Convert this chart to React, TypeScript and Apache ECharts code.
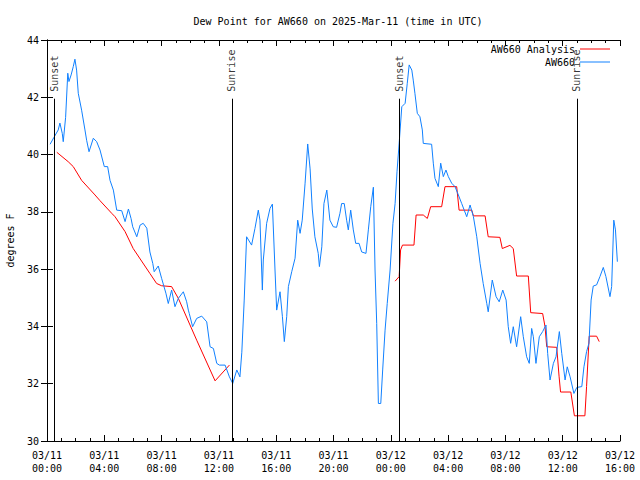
import React, { useEffect, useRef } from "react";
import * as echarts from "echarts";

// minutes since 2025-03-11 00:00 UTC
const blueMinutes = [13,29,47,54,64,68,78,87,92,101,110,117,124,131,145,159,166,176,194,208,222,240,254,264,278,292,313,327,341,352,359,376,390,403,418,431,443,449,466,480,498,508,522,536,550,571,585,592,596,610,627,648,669,683,697,711,722,746,764,778,795,808,816,826,836,857,871,885,892,902,906,920,934,944,955,962,976,986,994,1004,1011,1025,1039,1050,1060,1069,1081,1092,1102,1111,1122,1136,1141,1151,1160,1172,1185,1199,1213,1227,1234,1245,1255,1262,1272,1283,1293,1307,1318,1336,1346,1356,1367,1374,1381,1388,1398,1406,1416,1425,1437,1449,1458,1466,1475,1486,1500,1509,1517,1528,1534,1541,1551,1562,1572,1576,1611,1618,1625,1639,1649,1660,1671,1681,1695,1709,1723,1737,1758,1772,1786,1800,1814,1827,1842,1848,1865,1881,1894,1909,1923,1932,1942,1953,1967,1984,1995,2009,2020,2030,2037,2048,2062,2076,2090,2097,2107,2121,2132,2146,2156,2170,2179,2191,2207,2219,2240,2249,2260,2270,2279,2288,2302,2316,2330,2341,2358,2365,2374,2381,2389];
const blueValues = [40.36,40.6,40.86,41.1,40.74,40.45,41.3,42.84,42.55,42.78,43.07,43.33,42.95,42.14,41.55,40.86,40.5,40.1,40.57,40.45,40.16,39.58,39.58,39.1,38.76,38.06,38.04,37.66,38.1,37.77,37.48,37.13,37.54,37.6,37.43,36.6,36.2,35.91,36.11,35.68,35.16,34.8,35.27,34.69,34.98,35.21,34.86,34.57,34.45,33.99,34.28,34.36,34.16,33.29,33.23,32.71,32.65,32.65,32.24,32.01,32.48,32.24,33.1,34.92,37.13,36.84,37.42,38.06,37.71,35.27,36.32,37.6,38.12,38.27,35.97,34.57,35.21,34.34,33.47,34.34,35.39,35.91,36.38,37.71,37.25,37.71,39.0,40.37,39.5,38.1,37.13,36.55,36.09,36.78,38.29,38.76,37.71,37.48,37.46,37.95,38.29,38.29,37.71,37.37,38.06,37.37,36.9,36.9,36.6,36.55,37.37,38.18,38.86,35.97,34.1,31.31,31.31,32.48,33.87,34.8,35.97,37.6,38.29,39.4,40.4,41.67,41.79,42.49,43.13,42.95,42.6,42.14,41.44,41.32,40.86,40.39,40.36,39.7,39.17,38.88,39.7,39.23,39.46,39.23,39.0,38.88,38.59,38.29,37.83,38.24,37.83,37.13,36.2,35.5,34.8,34.51,35.62,35.04,34.86,35.27,34.92,33.99,33.41,33.99,33.29,34.34,33.64,32.94,32.71,33.93,33.64,32.71,33.64,33.82,34.05,33.06,32.13,32.71,32.94,33.82,33.06,32.13,32.59,32.24,31.66,31.87,31.9,32.59,33.12,33.41,34.92,35.41,35.45,35.74,36.06,35.74,35.04,35.39,37.71,37.37,36.26];

const redMinutes = [41,89,110,145,201,222,271,285,327,361,431,459,480,522,550,599,627,704,764,1100,1458,1475,1481,1489,1537,1546,1576,1593,1607,1653,1667,1716,1726,1779,1786,1835,1848,1897,1907,1939,1953,1967,2016,2026,2076,2086,2093,2135,2145,2151,2194,2209,2253,2260,2271,2302,2313];
const redValues = [40.08,39.75,39.58,39.1,38.59,38.39,37.95,37.83,37.31,36.72,35.85,35.5,35.42,35.39,34.98,34.05,33.52,32.1,32.65,null,35.58,35.74,36.67,36.84,36.84,37.89,37.89,37.77,38.18,38.18,38.88,38.88,38.06,38.06,37.86,37.86,37.13,37.11,36.72,36.83,36.72,35.76,35.76,34.48,34.45,33.99,33.29,33.27,32.24,31.71,31.71,30.88,30.88,31.9,33.66,33.66,33.47];

const eventMinutes = [31, 774, 1476, 2219];
const eventLabels = ["Sunset", "Sunrise", "Sunset", "Sunrise"];
const eventTop = 41.95;

const yTicks = { min: 30, max: 44, interval: 2 };
const xRange = { min: 0, max: 2400, interval: 240 };

const FONT = "DejaVu Sans Mono";

function fmtX(m: number): string {
  const day = 11 + Math.floor(m / 1440);
  const hh = Math.floor((m % 1440) / 60);
  return "03/" + day + "\n" + String(hh).padStart(2, "0") + ":00";
}

export default function App() {
  const ref = useRef<HTMLDivElement>(null);
  useEffect(() => {
    if (!ref.current) return;
    const chart = echarts.init(ref.current, undefined, { renderer: "svg" });
    const axisLine = { show: true, lineStyle: { color: "#000", width: 1 } };
    const xCommon = {
      type: "value",
      min: xRange.min,
      max: xRange.max,
      interval: xRange.interval,
      axisLine,
      axisTick: { show: true, inside: true, length: 6, lineStyle: { color: "#000" } },
      minorTick: { show: true, splitNumber: 4, length: 3, lineStyle: { color: "#000" } },
      splitLine: { show: false },
      minorSplitLine: { show: false },
    };
    const yCommon = {
      type: "value",
      min: yTicks.min,
      max: yTicks.max,
      interval: yTicks.interval,
      axisLine,
      axisTick: { show: true, inside: true, length: 6, lineStyle: { color: "#000" } },
      splitLine: { show: false },
    };
    chart.setOption({
      animation: false,
      backgroundColor: "#fff",
      textStyle: { fontFamily: FONT },
      title: {
        text: "Dew Point for AW660 on 2025-Mar-11 (time in UTC)",
        left: 333,
        textAlign: "center",
        top: 11,
        textStyle: { fontFamily: FONT, fontSize: 10, fontWeight: "normal", color: "#000" },
      },
      legend: [
        {
          data: ["AW660 Analysis"],
          right: 30,
          top: 44,
          padding: 0,
          align: "right",
          icon: "rect",
          itemWidth: 30,
          itemHeight: 1,
          textStyle: { fontFamily: FONT, fontSize: 10, color: "#000" },
        },
        {
          data: ["AW660"],
          right: 30,
          top: 57,
          padding: 0,
          align: "right",
          icon: "rect",
          itemWidth: 30,
          itemHeight: 1,
          textStyle: { fontFamily: FONT, fontSize: 10, color: "#000" },
        },
      ],
      grid: {
        left: 47,
        right: 20,
        top: 40,
        bottom: 39,
        containLabel: false,
        outerBoundsMode: "none",
      },
      xAxis: [
        {
          ...xCommon,
          position: "bottom",
          axisLabel: {
            show: true,
            formatter: fmtX,
            fontFamily: FONT,
            fontSize: 10,
            color: "#000",
            lineHeight: 13,
            margin: 8,
          },
        },
        { ...xCommon, position: "top", axisLabel: { show: false } },
      ],
      yAxis: [
        {
          ...yCommon,
          position: "left",
          name: "degrees F",
          nameLocation: "middle",
          nameRotate: 90,
          nameGap: 32,
          nameTextStyle: { fontFamily: FONT, fontSize: 10, color: "#000" },
          axisLabel: { show: true, fontFamily: FONT, fontSize: 10, color: "#000", margin: 8 },
        },
        { ...yCommon, position: "right", axisLabel: { show: false } },
      ],
      series: [
        {
          name: "events",
          type: "scatter",
          xAxisIndex: 0,
          yAxisIndex: 0,
          symbolSize: 0,
          silent: true,
          data: eventMinutes.map((t, i) => ({
            value: [t, eventTop],
            label: {
              show: true,
              formatter: eventLabels[i],
              position: "top",
              distance: 7,
              rotate: 90,
              align: "left",
              verticalAlign: "middle",
              fontFamily: FONT,
              fontSize: 10,
              color: "#000",
            },
          })),
          markLine: {
            silent: true,
            symbol: ["none", "none"],
            label: { show: false },
            lineStyle: { color: "#000", width: 1, type: "solid" },
            data: eventMinutes.map((t) => [
              { coord: [t, yTicks.min] },
              { coord: [t, eventTop] },
            ]),
          },
          z: 1,
        },
        {
          name: "AW660 Analysis",
          type: "line",
          xAxisIndex: 0,
          yAxisIndex: 0,
          showSymbol: false,
          symbol: "none",
          connectNulls: false,
          color: "#ff0000",
          lineStyle: { color: "#ff0000", width: 1 },
          data: redMinutes.map((t, i) => [t, redValues[i]]),
          z: 2,
        },
        {
          name: "AW660",
          type: "line",
          xAxisIndex: 0,
          yAxisIndex: 0,
          showSymbol: false,
          symbol: "none",
          color: "#1080ff",
          lineStyle: { color: "#1080ff", width: 1 },
          data: blueMinutes.map((t, i) => [t, blueValues[i]]),
          z: 3,
        },
      ],
    });
    return () => chart.dispose();
  }, []);
  return (
    <div
      ref={ref}
      style={{ position: "fixed", left: 0, top: 0, width: 640, height: 480 }}
    />
  );
}
